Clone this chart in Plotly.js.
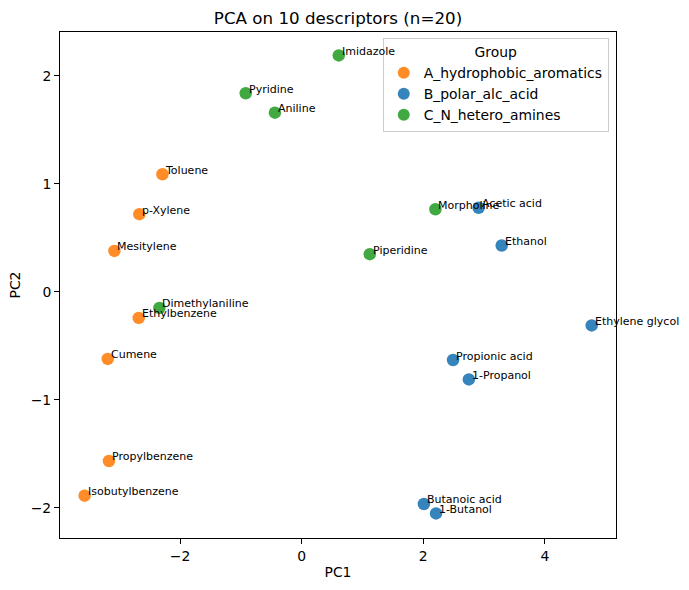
<!DOCTYPE html>
<html>
<head>
<meta charset="utf-8">
<script src="https://cdn.plot.ly/plotly-3.0.1.min.js"></script>
<style>html,body{margin:0;padding:0;background:#fff;}#chart{width:689px;height:590px;}</style>
</head>
<body>
<div id="chart"></div>
<script>
const groupNames = ["A_hydrophobic_aromatics", "B_polar_alc_acid", "C_N_hetero_amines"];
const groupColors = ["#ff7f0e", "#1f77b4", "#2ca02c"];

const aNames = ["Toluene", "p-Xylene", "Mesitylene", "Ethylbenzene", "Cumene", "Propylbenzene", "Isobutylbenzene"];
const aPC1 = [-2.29, -2.67, -3.08, -2.68, -3.19, -3.17, -3.57];
const aPC2 = [1.09, 0.72, 0.38, -0.24, -0.62, -1.565, -1.886];

const bNames = ["Acetic acid", "Ethanol", "Ethylene glycol", "Propionic acid", "1-Propanol", "Butanoic acid", "1-Butanol"];
const bPC1 = [2.91, 3.29, 4.77, 2.49, 2.75, 2.01, 2.21];
const bPC2 = [0.78, 0.43, -0.31, -0.63, -0.81, -1.963, -2.05];

const cNames = ["Imidazole", "Pyridine", "Aniline", "Morpholine", "Piperidine", "Dimethylaniline"];
const cPC1 = [0.61, -0.92, -0.44, 2.20, 1.12, -2.34];
const cPC2 = [2.19, 1.84, 1.66, 0.766, 0.35, -0.148];

const groups = [
  {names: aNames, x: aPC1, y: aPC2},
  {names: bNames, x: bPC1, y: bPC2},
  {names: cNames, x: cPC1, y: cPC2}
];

const font = "DejaVu Sans, sans-serif";
const traces = groups.map((g, i) => ({
  type: "scatter",
  mode: "markers",
  name: groupNames[i],
  x: g.x, y: g.y, text: g.names,
  marker: {color: groupColors[i], size: 12.5, opacity: 0.9, line: {width: 0}},
  cliponaxis: false,
  hoverinfo: "text"
}));

const annotations = [];
groups.forEach(g => {
  g.names.forEach((n, j) => {
    annotations.push({
      x: g.x[j], y: g.y[j], xref: "x", yref: "y",
      text: n, showarrow: false,
      xanchor: "left", yanchor: "middle",
      xshift: 1, yshift: 4,
      font: {family: font, size: 11, color: "#000"}
    });
  });
});

const axisCommon = {
  showgrid: false, zeroline: false,
  showline: true, mirror: true, linecolor: "#000", linewidth: 1,
  ticks: "outside", ticklen: 5, tickcolor: "#000", tickwidth: 1,
  tickfont: {family: font, size: 13.9, color: "#000"}
};

const layout = {
  width: 689, height: 590,
  margin: {l: 60, r: 73, t: 32, b: 52, pad: 0},
  paper_bgcolor: "#fff", plot_bgcolor: "#fff",
  font: {family: font, color: "#000"},
  title: {text: "PCA on 10 descriptors (n=20)", font: {family: font, size: 16.7, color: "#000"},
          x: 0.4906, xanchor: "center", y: 0.969, yanchor: "middle"},
  xaxis: Object.assign({}, axisCommon, {
    range: [-3.975, 5.17], tickvals: [-2, 0, 2, 4],
    title: {text: "PC1", font: {family: font, size: 13.9, color: "#000"}, standoff: 4}
  }),
  yaxis: Object.assign({}, axisCommon, {
    range: [-2.278, 2.407], tickvals: [-2, -1, 0, 1, 2],
    title: {text: "PC2", font: {family: font, size: 13.9, color: "#000"}, standoff: 6}
  }),
  showlegend: true,
  legend: {
    x: 0.987, xanchor: "right", y: 0.988, yanchor: "top",
    bgcolor: "rgba(255,255,255,0.8)", bordercolor: "#cccccc", borderwidth: 1,
    font: {family: font, size: 13.9, color: "#000"},
    title: {text: "Group", side: "top center", font: {family: font, size: 13.9, color: "#000"}},
    itemsizing: "constant", tracegroupgap: 0
  },
  annotations: annotations
};

Plotly.newPlot("chart", traces, layout, {displayModeBar: false, staticPlot: true});
</script>
</body>
</html>
